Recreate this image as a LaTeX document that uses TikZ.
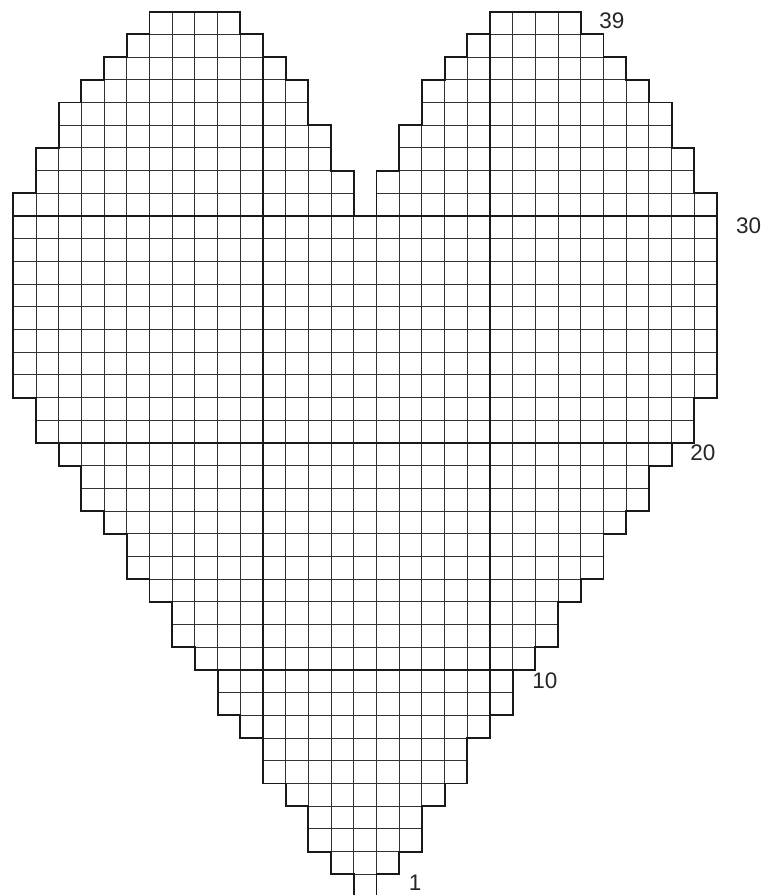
\documentclass[tikz,border=0pt]{standalone}
\usepackage{fontspec}
\setmainfont{Liberation Sans}

\tikzset{
  gridline/.style={line width=1pt, black!80},
  boldline/.style={line width=1.9pt, black!90, line join=miter},
  rowlabel/.style={font=\fontsize{22.5}{27}\selectfont, text=black!85, inner sep=0pt},
}

\begin{document}
\begin{tikzpicture}[scale=0.7978]
\useasboundingbox (-0.586,0.088) rectangle (33.16,39.515);
\clip (-0.586,0.088) rectangle (33.16,39.515);
% rows 1-30: first stitch of each row
\foreach \r/\l in {1/15,2/14,3/13,4/13,5/12,6/11,7/11,8/10,9/9,10/9,11/8,12/7,13/7,14/6,15/5,16/5,17/4,18/3,19/3,20/2,21/1,22/1,23/0,24/0,25/0,26/0,27/0,28/0,29/0,30/0}
  \draw[gridline] (\l,\r-1) grid (31-\l,\r);
% rows 31-39: the two lobes
\foreach \r/\a/\b in {31/0/15,32/1/15,33/1/14,34/2/14,35/2/13,36/3/13,37/4/12,38/5/11,39/6/10}{
  \draw[gridline] (\a,\r-1) grid (\b,\r);
  \draw[gridline] (31-\b,\r-1) grid (31-\a,\r);
}
% every tenth stitch and row
\draw[boldline] (11,5) -- (11,38);
\draw[boldline] (21,7) -- (21,39);
\draw[boldline] (8,10) -- (23,10);
\draw[boldline] (1,20) -- (30,20);
\draw[boldline] (0,30) -- (31,30);
% outline
\draw[boldline] (15,0) -- (15,1) -- (14,1) -- (14,2) -- (13,2) -- (13,4) -- (12,4) -- (12,5) -- (11,5) -- (11,7) -- (10,7) -- (10,8) -- (9,8) -- (9,10) -- (8,10) -- (8,11) -- (7,11) -- (7,13) -- (6,13) -- (6,14) -- (5,14) -- (5,16) -- (4,16) -- (4,17) -- (3,17) -- (3,19) -- (2,19) -- (2,20) -- (1,20) -- (1,22) -- (0,22) -- (0,31) -- (1,31) -- (1,33) -- (2,33) -- (2,35) -- (3,35) -- (3,36) -- (4,36) -- (4,37) -- (5,37) -- (5,38) -- (6,38) -- (6,39) -- (10,39) -- (10,38) -- (11,38) -- (11,37) -- (12,37) -- (12,36) -- (13,36) -- (13,34) -- (14,34) -- (14,32) -- (15,32) -- (15,30) -- (16,30) -- (16,32) -- (17,32) -- (17,34) -- (18,34) -- (18,36) -- (19,36) -- (19,37) -- (20,37) -- (20,38) -- (21,38) -- (21,39) -- (25,39) -- (25,38) -- (26,38) -- (26,37) -- (27,37) -- (27,36) -- (28,36) -- (28,35) -- (29,35) -- (29,33) -- (30,33) -- (30,31) -- (31,31) -- (31,22) -- (30,22) -- (30,20) -- (29,20) -- (29,19) -- (28,19) -- (28,17) -- (27,17) -- (27,16) -- (26,16) -- (26,14) -- (25,14) -- (25,13) -- (24,13) -- (24,11) -- (23,11) -- (23,10) -- (22,10) -- (22,8) -- (21,8) -- (21,7) -- (20,7) -- (20,5) -- (19,5) -- (19,4) -- (18,4) -- (18,2) -- (17,2) -- (17,1) -- (16,1) -- (16,0) -- cycle;
% row numbers
\node[rowlabel] (lab39) at (26.37,38.59) {39};
\node[rowlabel] (lab30) at (32.39,29.56) {30};
\node[rowlabel] (lab20) at (30.38,19.56) {20};
\node[rowlabel] (lab10) at (23.42,9.52) {10};
\node[rowlabel] (lab1) at (17.7,0.62) {1};
\end{tikzpicture}
\end{document}
